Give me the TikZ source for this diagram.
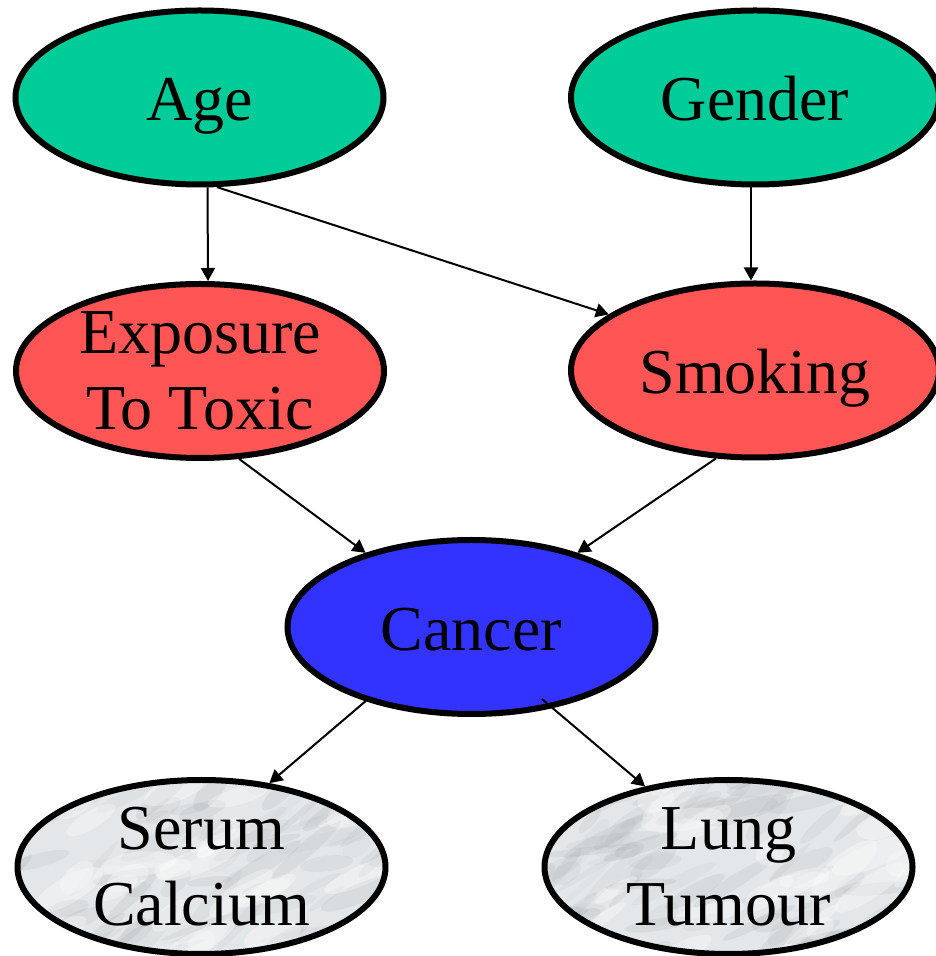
\documentclass[tikz,border=0pt]{standalone}
\usepackage{fontspec}
\setmainfont{Liberation Serif}
\usetikzlibrary{shapes.geometric,arrows.meta}

\definecolor{agegreen}{RGB}{0,204,153}
\definecolor{riskred}{RGB}{255,85,85}
\definecolor{cancerblue}{RGB}{51,51,255}
\definecolor{marblebase}{RGB}{228,231,233}
\definecolor{marblevein}{RGB}{140,145,150}

\begin{document}
\begin{tikzpicture}[x=1pt,y=1pt,
  bn/.style={ellipse, draw=black, line width=6pt,
    minimum width=368pt, minimum height=174pt, inner sep=0pt,
    align=center, font=\fontsize{64}{76}\selectfont},
  % one-line labels: centre the capitals, ignore descenders
  oneline/.style={text height=47pt, text depth=0pt},
  factor/.style={bn, oneline, fill=agegreen},
  risk/.style={bn, fill=riskred},
  disease/.style={bn, oneline, fill=cancerblue},
  % light marble surface: a pale base with soft grey veins
  marble/.style={bn, fill=marblebase, path picture={
    \pgfmathsetseed{#1}
    \foreach \k in {1,...,80}{
      \pgfmathsetmacro\mx{190*rand}
      \pgfmathsetmacro\my{95*rand}
      \pgfmathsetmacro\ma{14+36*rnd}
      \pgfmathsetmacro\mb{3+7*rnd}
      \pgfmathsetmacro\mr{5+45*rnd}
      \pgfmathsetmacro\mo{0.04+0.10*rnd}
      \fill[marblevein, opacity=\mo]
        ([shift={(\mx pt,\my pt)}]path picture bounding box.center)
        ellipse [x radius=\ma pt, y radius=\mb pt, rotate=\mr];
    }
    \foreach \k in {1,...,30}{
      \pgfmathsetmacro\mx{190*rand}
      \pgfmathsetmacro\my{95*rand}
      \pgfmathsetmacro\ma{15+30*rnd}
      \pgfmathsetmacro\mb{5+9*rnd}
      \pgfmathsetmacro\mr{5+40*rnd}
      \fill[white, opacity=0.3]
        ([shift={(\mx pt,\my pt)}]path picture bounding box.center)
        ellipse [x radius=\ma pt, y radius=\mb pt, rotate=\mr];
    }
  }},
  conn/.style={line width=2pt, -{Triangle[length=13pt,width=14pt]}}
]
\useasboundingbox (0,0) rectangle (935,956);

% nodes
\node[factor]  (age)    at (199.5,858.5) {Age};
\node[factor]  (gender) at (755,858.5)   {Gender};
\node[risk]    (expo)   at (200,585)     {Exposure\\To Toxic};
\node[risk, oneline] (smoke) at (755,585.5) {Smoking};
\node[disease] (cancer) at (471.5,329)   {Cancer};
\node[marble=11] (serum) at (201.5,89)   {Serum\\Calcium};
\node[marble=23] (lung)  at (728.5,89)   {Lung\\Tumour};

% connectors
\draw[conn] ([xshift=8pt]age.south) -- ([xshift=8pt]expo.north);
\draw[conn] (age.-79) -- (smoke.159);
\draw[conn] ([xshift=-4pt]gender.south) -- ([xshift=-4pt]smoke.north);
\draw[conn] (expo.-66) -- (cancer.145);
\draw[conn] (smoke.-114) -- (cancer.35);
\draw[conn] (cancer.-145) -- (serum.51);
\draw[conn, shorten <=-14pt] (cancer.-45) -- (lung.136);
\end{tikzpicture}
\end{document}
